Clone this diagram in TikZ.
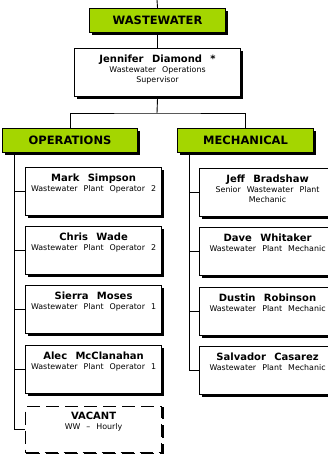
\documentclass[tikz,border=0pt]{standalone}
\usepackage{fontspec}
\setmainfont{DejaVu Sans}[WordSpace=2.4]
\definecolor{lime}{RGB}{164,214,0}
\newcommand\namef{\fontsize{10}{11}\bfseries\selectfont}
\newcommand\subf{\fontsize{7.9}{10}\mdseries\selectfont}
\newcommand\pinfo[3][46pt]{\parbox[c][#1][t]{134pt}{\centering\vspace*{5pt}{\namef #2\par}{\subf #3\par}}}
\tikzset{
  shadowed/.style={preaction={fill=black, transform canvas={shift={(2.6pt,-2.6pt)}}}},
  person/.style={draw=black, line width=1.1pt, fill=white, anchor=north west,
    minimum width=136pt, minimum height=48pt, inner sep=0pt, shadowed},
  vacantbox/.style={draw=black, line width=1.1pt, fill=white, anchor=north west,
    minimum width=136pt, minimum height=46pt, inner sep=0pt, dash pattern=on 13pt off 6pt,
    preaction={draw=black, line width=2.4pt, dash pattern=on 13pt off 6pt,
      transform canvas={shift={(1.6pt,-1.6pt)}}}},
  dept/.style={draw=black, line width=1.1pt, fill=lime, anchor=north west,
    minimum height=24pt, inner sep=0pt, shadowed, font=\fontsize{11.5}{12}\bfseries\selectfont},
  conn/.style={line width=0.9pt}
}
\begin{document}
\begin{tikzpicture}[x=1pt,y=-1pt]
\useasboundingbox (0,0) rectangle (328,454);
\clip (0,0) rectangle (328,454);
\node[dept, minimum width=136pt] (ww) at (89,8) {WASTEWATER};
\node[person, minimum width=166pt] (jd) at (74,48)
  {\parbox[c][46pt][t]{164pt}{\centering\vspace*{5pt}{\namef Jennifer Diamond *\par}{\subf Wastewater Operations\par Supervisor\par}}};
\node[dept, minimum width=135pt] (ops) at (2,128) {OPERATIONS};
\node[dept, minimum width=136pt] (mech) at (177,128) {MECHANICAL};

\node[person] (m1) at (25,167) {\pinfo{Mark Simpson}{Wastewater Plant Operator 2}};
\node[person] (m2) at (25,226) {\pinfo{Chris Wade}{Wastewater Plant Operator 2}};
\node[person] (m3) at (25,285) {\pinfo{Sierra Moses}{Wastewater Plant Operator 1}};
\node[person] (m4) at (25,345) {\pinfo{Alec McClanahan}{Wastewater Plant Operator 1}};
\node[vacantbox] (vac) at (25,406) {\pinfo[44pt]{VACANT}{WW -- Hourly}};

\node[person] (r1) at (199,168) {\pinfo{Jeff Bradshaw}{Senior Wastewater Plant\par Mechanic}};
\node[person] (r2) at (199,227) {\pinfo{Dave Whitaker}{Wastewater Plant Mechanic}};
\node[person] (r3) at (199,287) {\pinfo{Dustin Robinson}{Wastewater Plant Mechanic}};
\node[person] (r4) at (199,346) {\pinfo{Salvador Casarez}{Wastewater Plant Mechanic}};

\coordinate (top) at (157,0);
\coordinate (br) at (157,113);
\coordinate (lb) at (14,152);
\coordinate (rb) at (189,152);
\draw[conn] (top) -- (ww.north);
\draw[conn] (ww.south) -- (jd.north);
\draw[conn] (jd.south) -- (br);
\draw[conn] (ops.north) |- (br) -| (mech.north);
\draw[conn] (lb) |- (vac.west);
\foreach \n in {m1,m2,m3,m4} \draw[conn] (lb |- \n.west) -- (\n.west);
\draw[conn] (rb) |- (r4.west);
\foreach \n in {r1,r2,r3} \draw[conn] (rb |- \n.west) -- (\n.west);
\end{tikzpicture}
\end{document}
